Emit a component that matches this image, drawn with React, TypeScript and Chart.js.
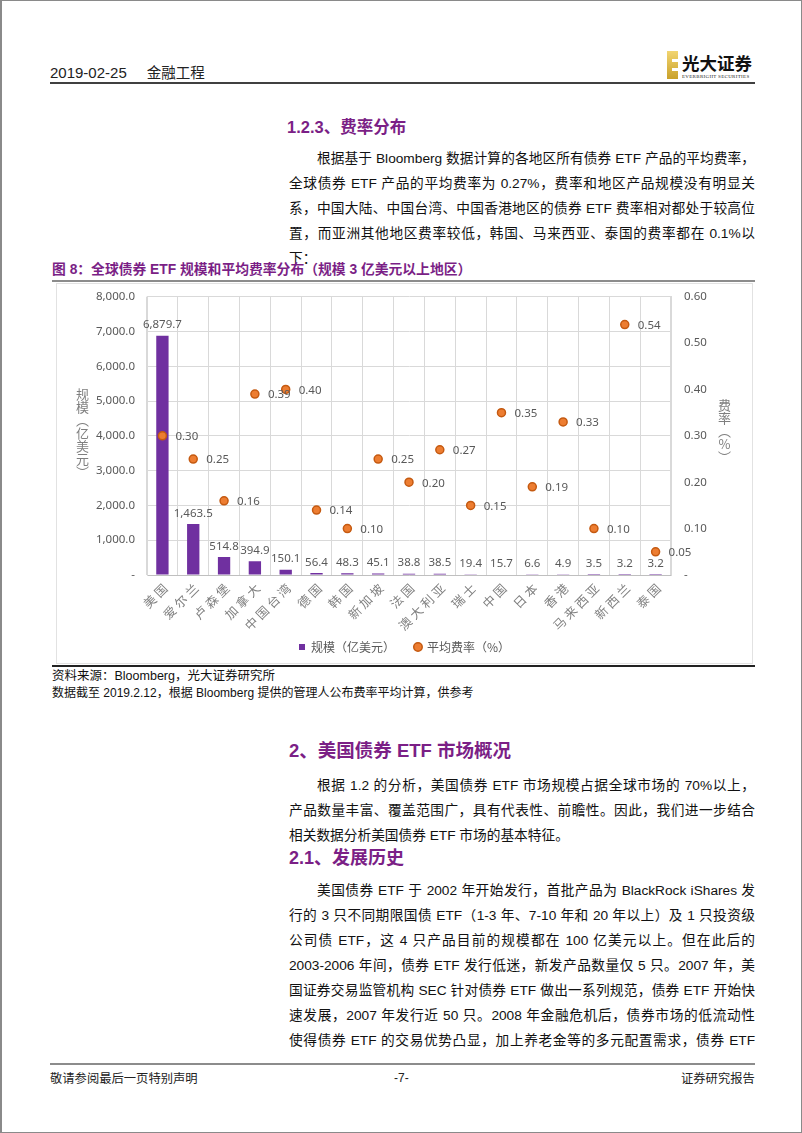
import React, { useEffect, useRef } from 'react';
import { Chart, registerables } from 'chart.js';

Chart.register(...registerables);

// ---------------- data ----------------
const categories = ['美国', '爱尔兰', '卢森堡', '加拿大', '中国台湾', '德国', '韩国', '新加坡', '法国', '澳大利亚', '瑞士', '中国', '日本', '香港', '马来西亚', '新西兰', '泰国'];
const sizeValues = [6879.7, 1463.5, 514.8, 394.9, 150.1, 56.4, 48.3, 45.1, 38.8, 38.5, 19.4, 15.7, 6.6, 4.9, 3.5, 3.2, 3.2];
const feeValues = [0.30, 0.25, 0.16, 0.39, 0.40, 0.14, 0.10, 0.25, 0.20, 0.27, 0.15, 0.35, 0.19, 0.33, 0.10, 0.54, 0.05];
const sizeSeriesName = '规模（亿美元）';
const feeSeriesName = '平均费率（%）';
const leftAxisTitle = '规模（亿美元）';
const rightAxisTitle = '费率（%）';
const leftAxisRange = [0, 8000, 1000];
const rightAxisRange = [0, 0.6, 0.1];

// ---------------- page text ----------------
const para1 = [
  '根据基于 Bloomberg 数据计算的各地区所有债券 ETF 产品的平均费率，',
  '全球债券 ETF 产品的平均费率为 0.27%，费率和地区产品规模没有明显关',
  '系，中国大陆、中国台湾、中国香港地区的债券 ETF 费率相对都处于较高位',
  '置，而亚洲其他地区费率较低，韩国、马来西亚、泰国的费率都在 0.1%以',
  '下：',
];
const para2 = [
  '根据 1.2 的分析，美国债券 ETF 市场规模占据全球市场的 70%以上，',
  '产品数量丰富、覆盖范围广，具有代表性、前瞻性。因此，我们进一步结合',
  '相关数据分析美国债券 ETF 市场的基本特征。',
];
const para3 = [
  '美国债券 ETF 于 2002 年开始发行，首批产品为 BlackRock iShares 发',
  '行的 3 只不同期限国债 ETF（1-3 年、7-10 年和 20 年以上）及 1 只投资级',
  '公司债 ETF，这 4 只产品目前的规模都在 100 亿美元以上。但在此后的',
  '2003-2006 年间，债券 ETF 发行低迷，新发产品数量仅 5 只。2007 年，美',
  '国证券交易监管机构 SEC 针对债券 ETF 做出一系列规范，债券 ETF 开始快',
  '速发展，2007 年发行近 50 只。2008 年金融危机后，债券市场的低流动性',
  '使得债券 ETF 的交易优势凸显，加上养老金等的多元配置需求，债券 ETF',
];

const PURPLE_TEXT = '#7B1F86';
const FONT = "'Liberation Sans', 'Noto Sans CJK SC', sans-serif";
const CJK = "'Noto Sans CJK SC', 'Liberation Sans', sans-serif";

const BAR_COLOR = '#7030A0';
const PT_FILL = '#ED7D31';
const PT_BORDER = '#C55A11';

const fmtSize = (v: number) =>
  Math.abs(v) < 1e-9 ? '-' : v.toLocaleString('en-US', { minimumFractionDigits: 1, maximumFractionDigits: 1 });
const fmtFee = (v: number) => (Math.abs(v) < 1e-9 ? '-' : v.toFixed(2));

const valueLabels = {
  id: 'valueLabels',
  afterDatasetsDraw(chart: any) {
    const ctx = chart.ctx;
    ctx.save();
    ctx.font = "11.5px 'Noto Sans', 'Liberation Sans', sans-serif";
    ctx.fillStyle = '#595959';
    const barMeta = chart.getDatasetMeta(1);
    barMeta.data.forEach((el: any, i: number) => {
      ctx.textAlign = 'center';
      ctx.textBaseline = 'bottom';
      ctx.fillText(fmtSize(sizeValues[i]), el.x, el.y - 5);
    });
    const ptMeta = chart.getDatasetMeta(0);
    ptMeta.data.forEach((el: any, i: number) => {
      ctx.textAlign = 'left';
      ctx.textBaseline = 'middle';
      ctx.fillText(fmtFee(feeValues[i]), el.x + 13, el.y + 1);
    });
    ctx.restore();
  },
};

// category labels drawn at the x scale's tick positions, rotated 45°, with letter spacing
const categoryLabels = {
  id: 'categoryLabels',
  afterDraw(chart: any) {
    const ctx = chart.ctx;
    const xs = chart.scales.x;
    ctx.save();
    ctx.font = `12.5px ${CJK}`;
    ctx.fillStyle = '#808080';
    ctx.textAlign = 'right';
    ctx.textBaseline = 'middle';
    try {
      (ctx as any).letterSpacing = '3px';
    } catch (e) {}
    categories.forEach((c, i) => {
      const x = xs.getPixelForTick(i);
      const y = xs.top + 9;
      ctx.save();
      ctx.translate(x + 5, y);
      ctx.rotate(-Math.PI / 4);
      ctx.fillText(c, 0, 0);
      ctx.restore();
    });
    ctx.restore();
  },
};

function ComboChart() {
  const ref = useRef<HTMLCanvasElement>(null);
  useEffect(() => {
    if (!ref.current) return;
    const chart = new Chart(ref.current, {
      type: 'bar',
      data: {
        labels: categories,
        datasets: [
          {
            type: 'line',
            label: feeSeriesName,
            data: feeValues,
            yAxisID: 'y1',
            showLine: false,
            pointRadius: 4,
            pointBackgroundColor: PT_FILL,
            pointBorderColor: PT_BORDER,
            pointBorderWidth: 1.5,
            backgroundColor: PT_FILL,
            borderColor: PT_BORDER,
          } as any,
          {
            type: 'bar',
            label: sizeSeriesName,
            data: sizeValues,
            yAxisID: 'y',
            backgroundColor: BAR_COLOR,
            barPercentage: 0.4,
            categoryPercentage: 1.0,
          } as any,
        ],
      },
      options: {
        animation: false,
        responsive: false,
        maintainAspectRatio: false,
        layout: { padding: { top: 12.7, left: 0, right: 0, bottom: 0 } },
        plugins: {
          tooltip: { enabled: false },
          legend: {
            position: 'bottom',
            labels: {
              usePointStyle: true,
              boxHeight: 6,
              boxWidth: 6,
              padding: 20,
              color: '#595959',
              font: { family: CJK, size: 12 },
              generateLabels: () => [
                { text: sizeSeriesName, fillStyle: BAR_COLOR, strokeStyle: BAR_COLOR, lineWidth: 0, pointStyle: 'rect', datasetIndex: 1, hidden: false, fontColor: '#595959' } as any,
                { text: feeSeriesName, fillStyle: PT_FILL, strokeStyle: PT_BORDER, lineWidth: 1.5, pointStyle: 'circle', datasetIndex: 0, hidden: false, fontColor: '#595959' } as any,
              ],
            },
          },
        },
        scales: {
          x: {
            offset: true,
            grid: { color: '#d9d9d9', drawTicks: false, offset: true },
            border: { color: '#bfbfbf' },
            ticks: { display: false, autoSkip: false },
            afterFit: (s: any) => {
              s.height = 46;
            },
          },
          y: {
            position: 'left',
            min: leftAxisRange[0],
            max: leftAxisRange[1],
            ticks: {
              stepSize: leftAxisRange[2],
              padding: 12,
              color: '#595959',
              font: { family: "'Noto Sans', 'Liberation Sans', sans-serif", size: 11.5 },
              callback: (v: any) => fmtSize(Number(v)),
            },
            grid: { color: '#d9d9d9', drawTicks: false },
            border: { display: true, color: '#d9d9d9' },
            afterFit: (s: any) => {
              s.width = 90;
              s.paddingTop = 0;
              s.paddingBottom = 0;
            },
          },
          y1: {
            position: 'right',
            min: rightAxisRange[0],
            max: rightAxisRange[1],
            ticks: {
              stepSize: rightAxisRange[2],
              padding: 13,
              color: '#595959',
              font: { family: "'Noto Sans', 'Liberation Sans', sans-serif", size: 11.5 },
              callback: (v: any) => fmtFee(Number(v)),
            },
            grid: { display: false, drawTicks: false },
            border: { display: true, color: '#d9d9d9' },
            afterFit: (s: any) => {
              s.width = 81;
              s.paddingTop = 0;
              s.paddingBottom = 0;
            },
          },
        },
      } as any,
      plugins: [valueLabels, categoryLabels],
    });
    return () => chart.destroy();
  }, []);
  return <canvas ref={ref} width={695} height={379} style={{ position: 'absolute', left: 0, top: 0, width: 695, height: 379 }} />;
}

const abs = (left: number, cy: number, h: number, extra: any = {}) => ({
  position: 'absolute' as const,
  left,
  top: cy - h / 2,
  height: h,
  lineHeight: h + 'px',
  whiteSpace: 'nowrap' as const,
  ...extra,
});

function Para({ lines, y0, endsOpen }: { lines: string[]; y0: number; endsOpen?: boolean }) {
  return (
    <>
      {lines.map((t, i) => {
        const last = i === lines.length - 1 && !endsOpen;
        return (
          <div
            key={i}
            style={{
              position: 'absolute',
              left: 287,
              width: 466,
              top: y0 + i * 25 - 12.5,
              height: 25,
              lineHeight: '25px',
              fontSize: 13.7,
              fontFamily: FONT,
              color: '#111',
              whiteSpace: 'nowrap',
              textIndent: i === 0 ? 28 : 0,
              textAlign: last ? 'left' : 'justify',
              textAlignLast: last ? 'left' : 'justify',
            } as any}
          >
            {t}
          </div>
        );
      })}
    </>
  );
}

export default function App() {
  return (
    <div
      style={{
        position: 'absolute',
        left: 0,
        top: 0,
        width: 802,
        height: 1133,
        boxSizing: 'border-box',
        border: '1px solid #8a8a8a',
        borderLeftWidth: 2,
        background: '#fff',
        fontFamily: FONT,
        overflow: 'hidden',
      }}
    >
      <div style={{ position: 'absolute', left: 0, top: 0, width: 802, height: 1133 }}>
        {/* header */}
        <div style={abs(48, 71, 20, { fontSize: 15, color: '#222', fontFamily: FONT })}>
          2019-02-25<span style={{ display: 'inline-block', width: 20 }} />
          <span style={{ fontFamily: CJK, fontSize: 14.5 }}>金融工程</span>
        </div>
        <div style={{ position: 'absolute', left: 48, top: 81, width: 705, height: 2, background: '#404040' }} />
        {/* logo */}
        <div style={{ position: 'absolute', left: 665, top: 50, width: 11, height: 28, background: 'linear-gradient(180deg,#f2d571,#c9a12a)' }}>
          <div style={{ position: 'absolute', left: 5, top: 8, width: 6, height: 3, background: '#fff' }} />
          <div style={{ position: 'absolute', left: 5, top: 17, width: 6, height: 3, background: '#fff' }} />
        </div>
        <div style={abs(680, 62, 22, { fontSize: 17.5, fontWeight: 700, fontFamily: CJK, color: '#111' })}>光大证券</div>
        <div style={abs(680, 75.5, 6, { fontSize: 5, fontFamily: "'Liberation Serif', serif", color: '#222', letterSpacing: 0.3 })}>EVERBRIGHT SECURITIES</div>

        {/* section 1.2.3 */}
        <div style={abs(285, 126, 24, { fontSize: 16.5, fontWeight: 700, color: PURPLE_TEXT, fontFamily: FONT })}>1.2.3、费率分布</div>
        <Para lines={para1} y0={157} />

        {/* caption */}
        <div style={abs(50, 269, 20, { fontSize: 13.8, fontWeight: 700, color: PURPLE_TEXT, fontFamily: FONT })}>
          图 8：全球债券 ETF 规模和平均费率分布（规模 3 亿美元以上地区）
        </div>
        <div style={{ position: 'absolute', left: 50, top: 279, width: 703, height: 2, background: '#8c8c8c' }} />

        {/* chart */}
        <div style={{ position: 'absolute', left: 54, top: 282, width: 697, height: 381, boxSizing: 'border-box', border: '1px solid #e2e2e2' }} />
        <div style={{ position: 'absolute', left: 55, top: 283, width: 695, height: 379 }}>
          <ComboChart />
        </div>
        <div
          style={{
            position: 'absolute',
            left: 73,
            top: 387,
            writingMode: 'vertical-rl',
            textOrientation: 'upright',
            fontSize: 13,
            lineHeight: '14px',
            color: '#7f7f7f',
            fontFamily: CJK,
          } as any}
        >
          {leftAxisTitle}
        </div>
        <div
          style={{
            position: 'absolute',
            left: 715,
            top: 398,
            writingMode: 'vertical-rl',
            textOrientation: 'upright',
            fontSize: 13,
            lineHeight: '14px',
            color: '#7f7f7f',
            fontFamily: CJK,
          } as any}
        >
          {rightAxisTitle}
        </div>

        {/* source */}
        <div style={{ position: 'absolute', left: 50, top: 664, width: 703, height: 1.5, background: '#222' }} />
        <div style={abs(50, 675, 16, { fontSize: 12.5, color: '#111' })}>资料来源：Bloomberg，光大证券研究所</div>
        <div style={abs(50, 692, 16, { fontSize: 12, color: '#111' })}>
          数据截至 2019.2.12，根据 Bloomberg 提供的管理人公布费率平均计算，供参考
        </div>

        {/* section 2 */}
        <div style={abs(287, 750, 30, { fontSize: 18.5, fontWeight: 700, color: PURPLE_TEXT })}>2、美国债券 ETF 市场概况</div>
        <Para lines={para2} y0={784} />
        <div style={abs(287, 857, 26, { fontSize: 18, fontWeight: 700, color: PURPLE_TEXT })}>2.1、发展历史</div>
        <Para lines={para3} y0={889} endsOpen />

        {/* footer */}
        <div style={{ position: 'absolute', left: 48, top: 1062, width: 705, height: 1.5, background: '#8c8c8c' }} />
        <div style={abs(48, 1077, 16, { fontSize: 12.3, color: '#222', fontFamily: CJK })}>敬请参阅最后一页特别声明</div>
        <div style={abs(392, 1077, 16, { fontSize: 12, color: '#222' })}>-7-</div>
        <div style={abs(679, 1077, 16, { fontSize: 12.3, color: '#222', fontFamily: CJK })}>证券研究报告</div>
      </div>
    </div>
  );
}
